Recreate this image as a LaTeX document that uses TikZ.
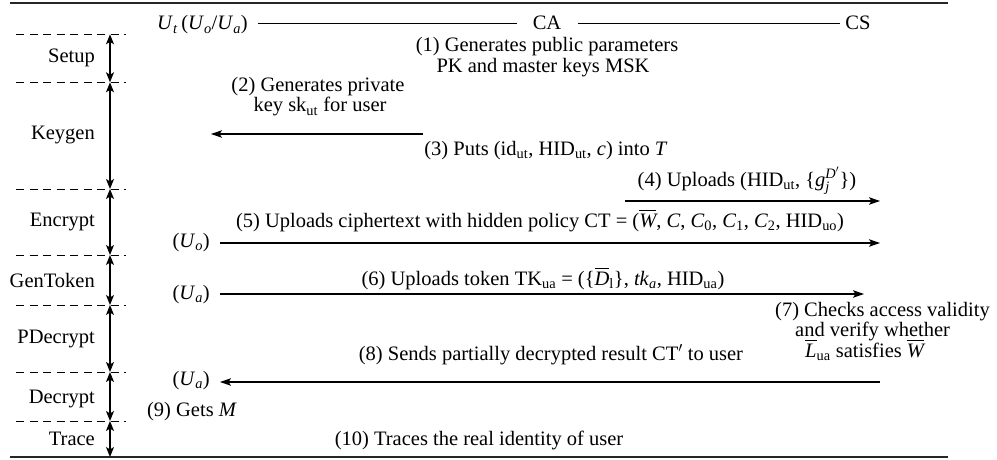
\documentclass[tikz,border=0pt]{standalone}
\usepackage{amsmath}
\usepackage{fontspec}
\setmainfont{Liberation Serif}
\usetikzlibrary{arrows.meta}
\newcommand{\vi}[1]{\textit{#1}}
\newcommand{\sbs}[1]{\textsubscript{#1}}
\begin{document}
\begin{tikzpicture}[x=1pt,y=-1pt,
  every node/.style={inner sep=0pt, font=\rmfamily\fontsize{20.5}{22}\selectfont},
  txt/.style={anchor=base},
  lbl/.style={anchor=east},
  rule/.style={line width=1.4pt, draw=black!85},
  dsh/.style={line width=0.9pt, dash pattern=on 8pt off 5.5pt},
  phase/.style={line width=1.2pt, {Stealth[length=10pt,width=8pt,inset=2.5pt]}-{Stealth[length=10pt,width=8pt,inset=2.5pt]}},
  msg/.style={line width=1.2pt, -{Stealth[length=11pt,width=7.5pt,inset=2.5pt]}},
  hdr/.style={line width=1pt}]
\useasboundingbox (0,0) rectangle (997,460);
% rules
\coordinate (rt1) at (10,3);   \coordinate (rt2) at (948,3);
\coordinate (rb1) at (10,457); \coordinate (rb2) at (948,457);
\draw[rule] (rt1) -- (rt2);
\draw[rule] (rb1) -- (rb2);
% header
\node[txt, anchor=base east] (ut) at (248,30) {\vi{U}\sbs{\vi{t}}\,(\vi{U}\sbs{\vi{o}}/\vi{U}\sbs{\vi{a}})};
\node[txt] (ca) at (547,30) {CA};
\node[txt] (cs) at (858,30) {CS};
\coordinate (h1) at (258,24); \coordinate (h2) at (517,24);
\coordinate (h3) at (578,24); \coordinate (h4) at (840,24);
\draw[hdr] (h1) -- (h2);
\draw[hdr] (h3) -- (h4);
% phase separators
\foreach \n/\y in {0/34.3,1/82.3,2/189,3/255,4/305,5/372,6/421}{
  \coordinate (dl\n) at (16,\y);
  \coordinate (dr\n) at (126,\y);
  \coordinate (d\n) at (110,\y);
  \draw[dsh] (dl\n) -- (dr\n);
}
\coordinate (d7) at (110,457);
\foreach \a/\b in {0/1,1/2,2/3,3/4,4/5,5/6,6/7}{
  \draw[phase] (d\a) -- (d\b);
}
% phase labels
\node[lbl] (lsetup) at (95,58) {Setup};
\node[lbl] (lkeygen) at (95,135.5) {Keygen};
\node[lbl] (lenc) at (95,222) {Encrypt};
\node[lbl] (lgen) at (95,280) {GenToken};
\node[lbl] (lpdec) at (95,338.5) {PDecrypt};
\node[lbl] (ldec) at (95,399) {Decrypt};
\node[lbl] (ltr) at (95,439) {Trace};
% (1)
\node[txt] (m1a) at (547,52) {(1) Generates public parameters};
\node[txt] (m1b) at (543,73) {PK and master keys MSK};
% (2)
\node[txt] (m2a) at (318,92) {(2) Generates private};
\node[txt] (m2b) at (320,112) {key sk\sbs{ut} for user};
\coordinate (a2s) at (423,134); \coordinate (a2e) at (211,134);
\draw[msg] (a2s) -- (a2e);
% (3)
\node[txt] (m3) at (546,155) {(3) Puts (id\sbs{ut}, HID\sbs{ut}, \vi{c}) into \vi{T}};
% (4)
\node[txt] (m4) at (747,186) {(4) Uploads (HID\sbs{ut}, \{$\textit{g}_{\textit{j}}^{\textit{D}'}$\})};
\coordinate (a4s) at (625,201); \coordinate (a4e) at (880,201);
\draw[msg] (a4s) -- (a4e);
% (5)
\node[txt] (m5) at (540,227) {(5) Uploads ciphertext with hidden policy CT = ($\overline{\textit{W}}$, \vi{C}, \vi{C}\sbs{0}, \vi{C}\sbs{1}, \vi{C}\sbs{2}, HID\sbs{uo})};
\node[txt, anchor=base east] (uo) at (210,247) {(\vi{U}\sbs{\vi{o}})};
\coordinate (a5s) at (220,243); \coordinate (a5e) at (880,243);
\draw[msg] (a5s) -- (a5e);
% (6)
\node[txt] (m6) at (543,285) {(6) Uploads token TK\sbs{ua} = (\{$\overline{\textit{D}}$\sbs{l}\}, \vi{tk}\sbs{\vi{a}}, HID\sbs{ua})};
\node[txt, anchor=base east] (ua1) at (210,299) {(\vi{U}\sbs{\vi{a}})};
\coordinate (a6s) at (220,294); \coordinate (a6e) at (864,294);
\draw[msg] (a6s) -- (a6e);
% (7)
\node[txt, anchor=base west] (m7a) at (775,316) {(7) Checks access validity};
\node[txt, anchor=base west] (m7b) at (795,336) {and verify whether};
\node[txt, anchor=base west] (m7c) at (805,357) {$\overline{\textit{L}}$\sbs{ua} satisfies $\overline{\textit{W}}$};
% (8)
\node[txt] (m8) at (551,360) {(8) Sends partially decrypted result CT$'$ to user};
\node[txt, anchor=base east] (ua2) at (210,385) {(\vi{U}\sbs{\vi{a}})};
\coordinate (a8s) at (880,382); \coordinate (a8e) at (220,382);
\draw[msg] (a8s) -- (a8e);
% (9)
\node[txt] (m9) at (192,416) {(9) Gets \vi{M}};
% (10)
\node[txt] (m10) at (479,445) {(10) Traces the real identity of user};
\end{tikzpicture}
\end{document}
